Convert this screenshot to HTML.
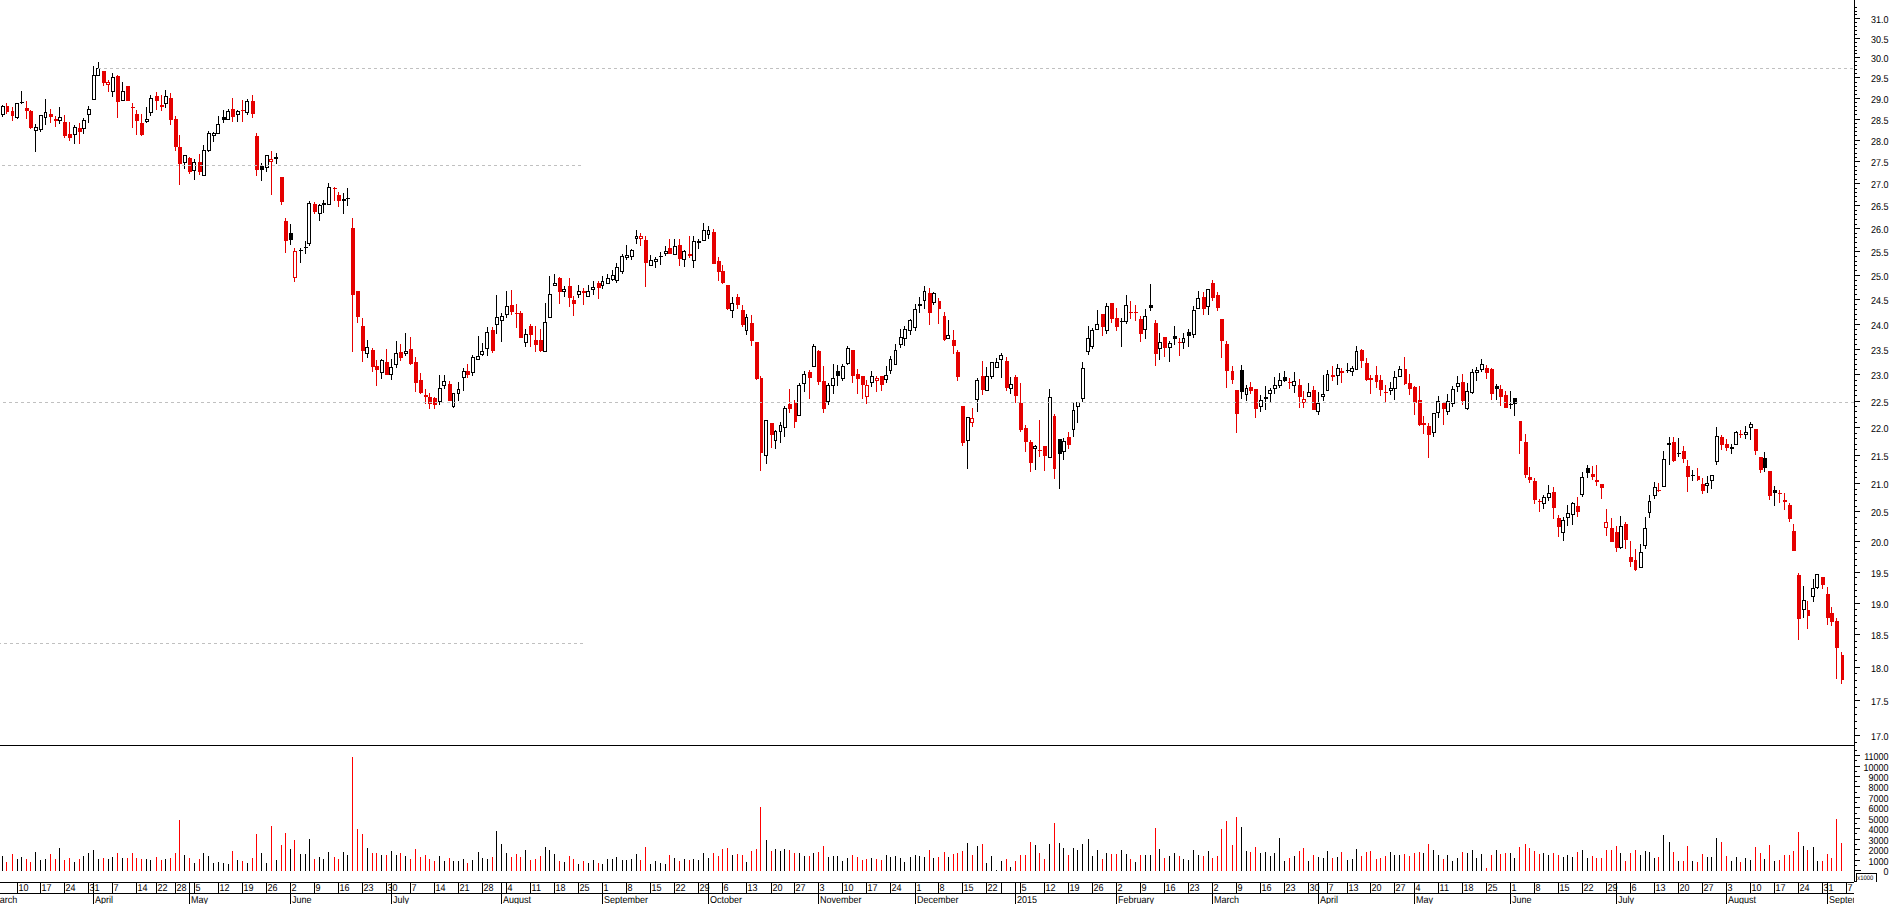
<!DOCTYPE html>
<html><head><meta charset="utf-8"><title>Chart</title>
<style>
html,body{margin:0;padding:0;background:#fff;overflow:hidden}
svg{display:block;font-family:"Liberation Sans",sans-serif;fill:#000;text-rendering:geometricPrecision}
</style></head><body>
<svg width="1890" height="904" viewBox="0 0 1890 904">
<rect width="1890" height="904" fill="#fff"/>
<g shape-rendering="crispEdges">
<path fill="#e50000" d="M6 103h1v3h-1zM6 112h1v2h-1zM6 106h3v6h-3zM12 107h1v4h-1zM12 116h1v5h-1zM11 111h3v5h-3zM26 101h1v7h-1zM26 111h1v8h-1zM25 108h4v3h-4zM30 110h1v1h-1zM30 128h1v1h-1zM29 111h4v17h-4zM50 109h1v5h-1zM50 117h1v6h-1zM49 114h4v3h-4zM55 116h1v3h-1zM55 121h1v6h-1zM54 119h4v2h-4zM64 115h1v7h-1zM64 136h1v2h-1zM63 122h4v14h-4zM69 122h1v12h-1zM69 138h1v3h-1zM68 134h4v4h-4zM79 123h1v5h-1zM79 132h1v12h-1zM78 128h4v4h-4zM103 83h1v3h-1zM102 71h4v12h-4zM108 80h1v2h-1zM108 85h1v7h-1zM106 82h4v3h-4zM117 75h1v1h-1zM117 102h1v16h-1zM116 76h4v26h-4zM126 86h4v15h-4zM132 103h1v4h-1zM132 108h1v20h-1zM131 107h4v1h-4zM136 110h1v4h-1zM136 121h1v14h-1zM135 114h4v7h-4zM141 114h1v9h-1zM141 135h1v1h-1zM140 123h4v12h-4zM156 92h1v4h-1zM156 101h1v9h-1zM155 96h4v5h-4zM161 95h1v10h-1zM161 107h1v4h-1zM160 105h4v2h-4zM170 93h1v5h-1zM170 120h1v5h-1zM169 98h4v22h-4zM175 116h1v3h-1zM175 147h1v4h-1zM174 119h4v28h-4zM179 135h1v12h-1zM179 164h1v21h-1zM178 147h4v17h-4zM189 157h1v1h-1zM189 172h1v2h-1zM188 158h4v14h-4zM199 154h1v8h-1zM199 172h1v3h-1zM198 162h4v10h-4zM232 98h1v11h-1zM232 117h1v5h-1zM231 109h4v8h-4zM242 100h1v10h-1zM242 111h1v11h-1zM241 110h4v1h-4zM252 95h1v6h-1zM252 114h1v4h-1zM251 101h4v13h-4zM256 133h1v3h-1zM256 170h1v6h-1zM255 136h4v34h-4zM271 151h1v8h-1zM271 162h1v33h-1zM269 159h4v3h-4zM281 202h1v3h-1zM280 177h4v25h-4zM285 218h1v3h-1zM285 241h1v12h-1zM284 221h4v20h-4zM294 248h1v3h-1zM294 278h1v4h-1zM293 251h4v27h-4zM314 202h1v2h-1zM314 212h1v2h-1zM313 204h4v8h-4zM334 187h1v1h-1zM334 189h1v12h-1zM333 188h4v1h-4zM338 192h1v3h-1zM338 201h1v6h-1zM337 195h4v6h-4zM352 218h1v10h-1zM352 295h1v57h-1zM351 228h4v67h-4zM357 317h1v6h-1zM356 291h4v26h-4zM362 318h1v8h-1zM362 351h1v11h-1zM361 326h4v25h-4zM372 348h1v2h-1zM372 367h1v5h-1zM371 350h4v17h-4zM376 360h1v6h-1zM376 370h1v16h-1zM375 366h4v4h-4zM386 349h1v13h-1zM385 362h4v13h-4zM400 344h1v8h-1zM400 358h1v3h-1zM399 352h4v6h-4zM410 337h1v12h-1zM410 364h1v1h-1zM409 349h4v15h-4zM415 357h1v5h-1zM415 383h1v9h-1zM414 362h4v21h-4zM420 373h1v7h-1zM420 393h1v1h-1zM419 380h4v13h-4zM425 389h1v6h-1zM425 397h1v7h-1zM424 395h4v2h-4zM429 393h1v4h-1zM429 404h1v5h-1zM428 397h4v7h-4zM434 397h1v1h-1zM434 405h1v4h-1zM433 398h4v7h-4zM449 381h1v3h-1zM448 384h4v17h-4zM467 364h1v7h-1zM467 375h1v3h-1zM466 371h4v4h-4zM492 327h1v3h-1zM492 351h1v2h-1zM491 330h4v21h-4zM511 290h1v15h-1zM511 312h1v3h-1zM510 305h4v7h-4zM516 304h1v9h-1zM516 314h1v14h-1zM515 313h4v1h-4zM520 311h1v2h-1zM519 313h4v25h-4zM530 324h1v2h-1zM530 335h1v12h-1zM529 326h4v9h-4zM535 326h1v14h-1zM535 345h1v7h-1zM534 340h4v5h-4zM540 329h1v11h-1zM540 351h1v1h-1zM539 340h4v11h-4zM559 277h1v1h-1zM559 292h1v12h-1zM558 278h4v14h-4zM569 278h1v8h-1zM569 298h1v9h-1zM568 286h4v12h-4zM573 296h1v4h-1zM573 304h1v12h-1zM572 300h4v4h-4zM583 288h1v3h-1zM583 293h1v12h-1zM582 291h4v2h-4zM598 281h1v2h-1zM598 288h1v11h-1zM597 283h4v5h-4zM640 233h1v3h-1zM640 239h1v7h-1zM639 236h4v3h-4zM645 236h1v4h-1zM645 263h1v24h-1zM644 240h4v23h-4zM669 239h1v9h-1zM668 248h4v6h-4zM679 239h1v6h-1zM679 259h1v7h-1zM678 245h4v14h-4zM689 236h1v18h-1zM689 256h1v2h-1zM688 254h4v2h-4zM713 229h1v3h-1zM712 232h4v32h-4zM718 257h1v4h-1zM718 272h1v9h-1zM717 261h4v11h-4zM722 265h1v6h-1zM722 283h1v1h-1zM721 271h4v12h-4zM727 309h1v1h-1zM726 285h4v24h-4zM737 294h1v3h-1zM737 305h1v4h-1zM736 297h4v8h-4zM742 305h1v5h-1zM742 325h1v2h-1zM741 310h4v15h-4zM751 315h1v8h-1zM751 341h1v5h-1zM750 323h4v18h-4zM756 379h1v1h-1zM755 342h4v37h-4zM760 376h1v2h-1zM760 453h1v18h-1zM760 378h3v75h-3zM771 435h1v13h-1zM770 423h4v12h-4zM789 389h1v15h-1zM789 409h1v4h-1zM788 404h4v5h-4zM794 400h1v3h-1zM794 422h1v6h-1zM794 403h3v19h-3zM809 370h1v2h-1zM809 378h1v21h-1zM808 372h4v6h-4zM818 350h1v1h-1zM818 382h1v3h-1zM817 351h4v31h-4zM823 366h1v15h-1zM823 409h1v4h-1zM822 381h4v28h-4zM852 376h1v7h-1zM851 350h4v26h-4zM857 369h1v5h-1zM857 379h1v15h-1zM856 374h4v5h-4zM862 385h1v14h-1zM861 376h4v9h-4zM866 380h1v5h-1zM866 397h1v7h-1zM865 385h4v12h-4zM876 376h1v2h-1zM876 381h1v11h-1zM875 378h4v3h-4zM881 385h1v6h-1zM880 376h4v9h-4zM929 288h1v5h-1zM929 313h1v12h-1zM928 293h4v20h-4zM938 298h1v3h-1zM938 309h1v15h-1zM938 301h3v8h-3zM944 312h1v4h-1zM944 340h1v1h-1zM943 316h3v24h-3zM953 330h1v10h-1zM953 346h1v8h-1zM952 340h4v6h-4zM957 350h1v2h-1zM957 377h1v4h-1zM956 352h4v25h-4zM962 443h1v3h-1zM961 406h4v37h-4zM972 408h1v10h-1zM972 423h1v4h-1zM970 418h4v5h-4zM982 361h1v15h-1zM982 390h1v5h-1zM981 376h4v14h-4zM1006 357h1v4h-1zM1006 388h1v3h-1zM1005 361h4v27h-4zM1015 375h1v2h-1zM1015 396h1v7h-1zM1014 377h4v19h-4zM1020 383h1v20h-1zM1020 430h1v2h-1zM1019 403h4v27h-4zM1025 425h1v3h-1zM1025 442h1v10h-1zM1024 428h4v14h-4zM1030 440h1v2h-1zM1030 463h1v9h-1zM1029 442h4v21h-4zM1039 420h1v30h-1zM1039 451h1v6h-1zM1038 450h4v1h-4zM1044 456h1v15h-1zM1043 446h4v10h-4zM1054 414h1v2h-1zM1054 469h1v10h-1zM1053 416h3v53h-3zM1068 432h1v5h-1zM1068 445h1v4h-1zM1067 437h4v8h-4zM1102 327h1v9h-1zM1101 314h4v13h-4zM1111 319h1v4h-1zM1110 303h4v16h-4zM1116 308h1v10h-1zM1116 327h1v4h-1zM1115 318h4v9h-4zM1130 301h1v11h-1zM1130 313h1v6h-1zM1129 312h4v1h-4zM1135 305h1v7h-1zM1135 313h1v8h-1zM1134 312h4v1h-4zM1140 316h1v3h-1zM1140 334h1v8h-1zM1139 319h4v15h-4zM1155 320h1v3h-1zM1155 354h1v12h-1zM1154 323h4v31h-4zM1164 348h1v9h-1zM1163 337h4v11h-4zM1179 338h1v4h-1zM1179 343h1v13h-1zM1178 342h4v1h-4zM1203 292h1v5h-1zM1203 309h1v6h-1zM1202 297h4v12h-4zM1212 280h1v3h-1zM1212 298h1v3h-1zM1211 283h4v15h-4zM1217 292h1v3h-1zM1217 308h1v3h-1zM1216 295h4v13h-4zM1221 341h1v17h-1zM1220 319h4v22h-4zM1226 341h1v3h-1zM1226 371h1v17h-1zM1225 344h4v27h-4zM1232 366h1v5h-1zM1232 380h1v4h-1zM1231 371h3v9h-3zM1236 414h1v19h-1zM1235 390h4v24h-4zM1250 382h1v5h-1zM1250 391h1v3h-1zM1249 387h4v4h-4zM1255 409h1v9h-1zM1254 389h4v20h-4zM1289 378h1v4h-1zM1289 383h1v6h-1zM1288 382h4v1h-4zM1299 379h1v6h-1zM1299 397h1v11h-1zM1298 385h4v12h-4zM1303 391h1v8h-1zM1303 403h1v5h-1zM1302 399h4v4h-4zM1313 386h1v4h-1zM1312 390h4v20h-4zM1332 366h1v9h-1zM1332 377h1v4h-1zM1331 375h4v2h-4zM1341 368h1v3h-1zM1341 373h1v10h-1zM1340 371h4v2h-4zM1361 349h1v1h-1zM1361 361h1v7h-1zM1360 350h4v11h-4zM1366 358h1v5h-1zM1366 380h1v1h-1zM1365 363h4v17h-4zM1370 375h1v3h-1zM1370 380h1v14h-1zM1369 378h4v2h-4zM1376 366h1v9h-1zM1376 382h1v6h-1zM1375 375h3v7h-3zM1380 375h1v5h-1zM1380 390h1v6h-1zM1379 380h4v10h-4zM1385 385h1v7h-1zM1385 393h1v9h-1zM1384 392h4v1h-4zM1404 357h1v12h-1zM1404 384h1v1h-1zM1404 369h3v15h-3zM1409 374h1v9h-1zM1409 389h1v6h-1zM1408 383h4v6h-4zM1414 386h1v1h-1zM1414 403h1v12h-1zM1413 387h4v16h-4zM1419 386h1v14h-1zM1419 425h1v1h-1zM1418 400h4v25h-4zM1423 416h1v7h-1zM1423 425h1v9h-1zM1422 423h4v2h-4zM1428 423h1v3h-1zM1428 435h1v23h-1zM1427 426h4v9h-4zM1443 409h1v16h-1zM1442 403h4v6h-4zM1462 374h1v8h-1zM1462 401h1v4h-1zM1461 382h4v19h-4zM1486 365h1v3h-1zM1486 373h1v6h-1zM1485 368h4v5h-4zM1491 368h1v1h-1zM1491 394h1v6h-1zM1490 369h4v25h-4zM1500 385h1v4h-1zM1500 397h1v9h-1zM1499 389h4v8h-4zM1505 391h1v4h-1zM1504 395h4v13h-4zM1519 441h1v13h-1zM1519 421h3v20h-3zM1525 434h1v8h-1zM1525 475h1v3h-1zM1524 442h4v33h-4zM1529 467h1v10h-1zM1529 480h1v3h-1zM1528 477h4v3h-4zM1534 478h1v3h-1zM1534 500h1v4h-1zM1533 481h4v19h-4zM1539 499h1v2h-1zM1539 502h1v10h-1zM1538 501h4v1h-4zM1553 487h1v5h-1zM1553 508h1v11h-1zM1552 492h4v16h-4zM1558 515h1v3h-1zM1558 527h1v10h-1zM1557 518h4v9h-4zM1577 497h1v9h-1zM1577 512h1v5h-1zM1576 506h4v6h-4zM1592 466h1v8h-1zM1592 477h1v3h-1zM1591 474h4v3h-4zM1596 465h1v15h-1zM1596 482h1v4h-1zM1595 480h4v2h-4zM1601 488h1v11h-1zM1600 484h4v4h-4zM1606 509h1v13h-1zM1606 528h1v8h-1zM1604 522h4v6h-4zM1611 518h1v10h-1zM1610 528h4v14h-4zM1616 526h1v6h-1zM1616 548h1v4h-1zM1615 532h4v16h-4zM1625 522h1v2h-1zM1625 540h1v9h-1zM1624 524h4v16h-4zM1630 541h1v16h-1zM1630 562h1v5h-1zM1629 557h4v5h-4zM1635 549h1v11h-1zM1635 570h1v1h-1zM1634 560h3v10h-3zM1658 483h1v7h-1zM1658 491h1v1h-1zM1657 490h4v1h-4zM1673 437h1v5h-1zM1673 461h1v1h-1zM1672 442h4v19h-4zM1683 446h1v5h-1zM1683 459h1v4h-1zM1682 451h4v8h-4zM1687 460h1v6h-1zM1687 477h1v15h-1zM1686 466h4v11h-4zM1697 468h1v8h-1zM1697 480h1v1h-1zM1697 476h3v4h-3zM1702 478h1v6h-1zM1702 491h1v3h-1zM1701 484h4v7h-4zM1721 435h1v2h-1zM1721 445h1v5h-1zM1720 437h4v8h-4zM1726 439h1v5h-1zM1726 448h1v3h-1zM1725 444h4v4h-4zM1740 430h1v4h-1zM1740 435h1v3h-1zM1739 434h4v1h-4zM1755 451h1v4h-1zM1754 429h4v22h-4zM1760 470h1v3h-1zM1759 457h4v13h-4zM1769 496h1v4h-1zM1768 471h4v25h-4zM1779 490h1v3h-1zM1779 494h1v9h-1zM1778 493h4v1h-4zM1784 493h1v7h-1zM1784 502h1v8h-1zM1783 500h4v2h-4zM1789 503h1v2h-1zM1789 519h1v3h-1zM1788 505h4v14h-4zM1793 524h1v7h-1zM1792 531h4v20h-4zM1798 573h1v2h-1zM1798 619h1v21h-1zM1797 575h4v44h-4zM1807 601h1v9h-1zM1807 616h1v13h-1zM1807 610h3v6h-3zM1822 585h1v4h-1zM1821 577h4v8h-4zM1827 587h1v7h-1zM1827 618h1v7h-1zM1826 594h4v24h-4zM1831 607h1v6h-1zM1831 622h1v4h-1zM1830 613h4v9h-4zM1836 618h1v3h-1zM1836 648h1v31h-1zM1835 621h4v27h-4zM1841 652h1v3h-1zM1841 680h1v4h-1zM1841 655h3v25h-3z"/>
<path fill="#000" d="M2 105h1v1h-1zM2 115h1v2h-1zM1 106h4v9h-4zM17 118h1v1h-1zM15 103h4v15h-4zM21 91h1v11h-1zM21 103h1v1h-1zM20 102h4v1h-4zM35 124h1v3h-1zM35 131h1v21h-1zM34 127h4v4h-4zM40 130h1v2h-1zM39 115h4v15h-4zM45 99h1v13h-1zM45 118h1v7h-1zM44 112h3v6h-3zM59 107h1v10h-1zM59 121h1v3h-1zM58 117h4v4h-4zM74 125h1v2h-1zM74 135h1v9h-1zM73 127h4v8h-4zM83 118h1v2h-1zM83 129h1v5h-1zM82 120h4v9h-4zM88 106h1v3h-1zM88 115h1v8h-1zM87 109h4v6h-4zM93 66h1v9h-1zM92 75h4v25h-4zM98 62h1v6h-1zM96 68h4v8h-4zM112 73h1v4h-1zM112 92h1v5h-1zM111 77h4v15h-4zM122 82h1v9h-1zM121 91h4v10h-4zM146 107h1v12h-1zM146 122h1v1h-1zM145 119h4v3h-4zM150 95h1v3h-1zM150 113h1v3h-1zM149 98h4v15h-4zM165 90h1v6h-1zM165 104h1v4h-1zM164 96h4v8h-4zM184 163h1v6h-1zM183 155h4v8h-4zM194 159h1v3h-1zM194 171h1v9h-1zM192 162h4v9h-4zM203 145h1v5h-1zM202 150h4v26h-4zM208 131h1v2h-1zM208 151h1v1h-1zM207 133h4v18h-4zM213 132h1v1h-1zM213 136h1v6h-1zM212 133h4v3h-4zM218 116h1v8h-1zM216 124h4v10h-4zM223 110h1v7h-1zM223 120h1v3h-1zM222 117h4v3h-4zM228 109h1v2h-1zM226 111h4v9h-4zM237 110h1v1h-1zM237 115h1v7h-1zM236 111h4v4h-4zM247 99h1v2h-1zM247 113h1v2h-1zM245 101h4v12h-4zM261 163h1v3h-1zM261 170h1v11h-1zM260 166h4v4h-4zM266 168h1v4h-1zM265 155h4v13h-4zM276 153h1v4h-1zM276 159h1v5h-1zM274 157h4v2h-4zM290 224h1v9h-1zM290 240h1v5h-1zM289 233h4v7h-4zM300 248h1v2h-1zM300 251h1v12h-1zM299 250h4v1h-4zM305 241h1v6h-1zM305 248h1v6h-1zM304 247h4v1h-4zM309 201h1v2h-1zM309 244h1v2h-1zM307 203h4v41h-4zM319 204h1v1h-1zM319 214h1v7h-1zM318 205h4v9h-4zM323 200h1v3h-1zM323 205h1v8h-1zM322 203h4v2h-4zM328 183h1v4h-1zM327 187h4v18h-4zM343 193h1v6h-1zM343 201h1v13h-1zM342 199h4v2h-4zM347 188h1v10h-1zM347 199h1v7h-1zM346 198h4v1h-4zM367 340h1v7h-1zM367 354h1v4h-1zM365 347h4v7h-4zM381 359h1v1h-1zM381 373h1v6h-1zM380 360h4v13h-4zM391 359h1v8h-1zM391 375h1v5h-1zM389 367h4v8h-4zM396 341h1v12h-1zM396 365h1v3h-1zM394 353h4v12h-4zM405 333h1v18h-1zM405 354h1v2h-1zM404 351h4v3h-4zM439 375h1v13h-1zM439 402h1v3h-1zM438 388h4v14h-4zM444 375h1v6h-1zM444 386h1v3h-1zM442 381h4v5h-4zM453 407h1v1h-1zM452 393h3v14h-3zM458 382h1v7h-1zM458 394h1v7h-1zM457 389h3v5h-3zM463 368h1v3h-1zM463 378h1v13h-1zM462 371h4v7h-4zM472 355h1v2h-1zM472 373h1v3h-1zM471 357h4v16h-4zM478 336h1v20h-1zM476 356h4v4h-4zM482 343h1v8h-1zM482 355h1v1h-1zM480 351h4v4h-4zM487 327h1v5h-1zM487 349h1v7h-1zM485 332h4v17h-4zM496 295h1v22h-1zM496 325h1v9h-1zM495 317h4v8h-4zM501 313h1v3h-1zM501 321h1v21h-1zM500 316h4v5h-4zM506 291h1v15h-1zM506 315h1v3h-1zM505 306h4v9h-4zM525 329h1v5h-1zM525 343h1v4h-1zM524 334h4v9h-4zM545 303h1v19h-1zM543 322h4v30h-4zM549 276h1v18h-1zM548 294h4v24h-4zM554 274h1v9h-1zM553 283h4v3h-4zM564 286h1v3h-1zM564 292h1v5h-1zM562 289h4v3h-4zM578 285h1v6h-1zM578 295h1v3h-1zM577 291h4v4h-4zM588 285h1v6h-1zM586 291h4v6h-4zM593 281h1v6h-1zM593 290h1v5h-1zM591 287h4v3h-4zM602 276h1v5h-1zM602 286h1v3h-1zM601 281h3v5h-3zM607 274h1v4h-1zM606 278h4v6h-4zM612 270h1v5h-1zM612 280h1v1h-1zM611 275h4v5h-4zM616 263h1v4h-1zM616 281h1v2h-1zM615 267h4v14h-4zM622 254h1v2h-1zM622 272h1v2h-1zM620 256h4v16h-4zM626 245h1v10h-1zM626 258h1v2h-1zM625 255h4v3h-4zM631 249h1v1h-1zM631 257h1v3h-1zM630 250h4v7h-4zM636 230h1v6h-1zM636 239h1v5h-1zM635 236h3v3h-3zM650 255h1v5h-1zM649 260h4v6h-4zM655 257h1v2h-1zM655 262h1v6h-1zM654 259h4v3h-4zM660 252h1v4h-1zM660 257h1v8h-1zM659 256h4v1h-4zM665 246h1v5h-1zM665 254h1v2h-1zM664 251h4v3h-4zM674 239h1v7h-1zM673 246h4v9h-4zM684 250h1v1h-1zM684 260h1v7h-1zM682 251h4v9h-4zM693 236h1v5h-1zM693 261h1v7h-1zM692 241h4v20h-4zM698 239h1v2h-1zM698 243h1v6h-1zM697 241h4v2h-4zM703 223h1v7h-1zM702 230h4v11h-4zM708 226h1v4h-1zM708 235h1v4h-1zM707 230h3v5h-3zM732 297h1v6h-1zM732 311h1v7h-1zM730 303h4v8h-4zM746 314h1v3h-1zM746 331h1v4h-1zM745 317h3v14h-3zM766 456h1v8h-1zM764 420h4v36h-4zM775 430h1v1h-1zM775 441h1v8h-1zM774 431h3v10h-3zM780 422h1v3h-1zM780 432h1v11h-1zM779 425h3v7h-3zM784 406h1v2h-1zM784 428h1v9h-1zM783 408h4v20h-4zM799 383h1v2h-1zM797 385h4v31h-4zM804 371h1v3h-1zM804 384h1v8h-1zM802 374h4v10h-4zM813 344h1v2h-1zM812 346h4v21h-4zM828 383h1v2h-1zM828 402h1v3h-1zM826 385h4v17h-4zM833 364h1v14h-1zM833 386h1v8h-1zM831 378h4v8h-4zM837 365h1v6h-1zM837 376h1v10h-1zM836 371h4v5h-4zM842 364h1v2h-1zM842 379h1v2h-1zM841 366h4v13h-4zM847 346h1v2h-1zM847 364h1v1h-1zM846 348h4v16h-4zM871 371h1v5h-1zM871 383h1v4h-1zM870 376h4v7h-4zM886 366h1v9h-1zM886 380h1v3h-1zM884 375h4v5h-4zM890 356h1v3h-1zM890 371h1v3h-1zM889 359h3v12h-3zM895 344h1v6h-1zM894 350h3v15h-3zM900 329h1v8h-1zM900 345h1v3h-1zM899 337h4v8h-4zM904 326h1v3h-1zM904 339h1v7h-1zM903 329h4v10h-4zM910 319h1v1h-1zM910 331h1v4h-1zM908 320h4v11h-4zM915 304h1v5h-1zM915 328h1v3h-1zM913 309h4v19h-4zM919 297h1v7h-1zM919 306h1v7h-1zM918 304h4v2h-4zM924 286h1v5h-1zM924 301h1v8h-1zM923 291h3v10h-3zM933 292h1v1h-1zM933 303h1v2h-1zM932 293h4v10h-4zM948 320h1v15h-1zM946 335h4v4h-4zM967 441h1v28h-1zM966 417h4v24h-4zM977 378h1v2h-1zM977 400h1v12h-1zM975 380h4v20h-4zM986 367h1v9h-1zM985 376h4v15h-4zM991 377h1v2h-1zM990 362h4v15h-4zM996 358h1v4h-1zM995 362h4v6h-4zM1001 353h1v2h-1zM1001 360h1v18h-1zM999 355h4v5h-4zM1010 377h1v7h-1zM1010 389h1v5h-1zM1009 384h4v5h-4zM1035 445h1v1h-1zM1035 449h1v21h-1zM1033 446h4v3h-4zM1049 389h1v8h-1zM1048 397h4v61h-4zM1059 454h1v35h-1zM1058 439h4v15h-4zM1063 438h1v3h-1zM1063 452h1v8h-1zM1062 441h4v11h-4zM1073 403h1v7h-1zM1073 430h1v7h-1zM1072 410h3v20h-3zM1077 407h1v16h-1zM1076 402h4v5h-4zM1082 362h1v6h-1zM1082 399h1v3h-1zM1081 368h4v31h-4zM1088 326h1v12h-1zM1088 352h1v3h-1zM1086 338h4v14h-4zM1092 328h1v2h-1zM1092 347h1v2h-1zM1090 330h4v17h-4zM1097 310h1v14h-1zM1095 324h4v6h-4zM1106 303h1v3h-1zM1106 331h1v3h-1zM1105 306h4v25h-4zM1121 318h1v3h-1zM1121 322h1v25h-1zM1120 321h4v1h-4zM1126 295h1v10h-1zM1126 322h1v2h-1zM1124 305h4v17h-4zM1145 309h1v7h-1zM1145 330h1v9h-1zM1143 316h4v14h-4zM1150 284h1v21h-1zM1150 308h1v3h-1zM1149 305h4v3h-4zM1159 333h1v9h-1zM1159 349h1v11h-1zM1158 342h4v7h-4zM1169 341h1v2h-1zM1169 348h1v14h-1zM1168 343h4v5h-4zM1174 326h1v10h-1zM1174 339h1v6h-1zM1173 336h4v3h-4zM1183 333h1v5h-1zM1183 343h1v6h-1zM1182 338h3v5h-3zM1188 329h1v3h-1zM1188 336h1v11h-1zM1187 332h4v4h-4zM1193 306h1v4h-1zM1193 335h1v3h-1zM1192 310h4v25h-4zM1198 291h1v7h-1zM1196 298h4v11h-4zM1208 307h1v8h-1zM1206 289h4v18h-4zM1241 365h1v5h-1zM1241 392h1v7h-1zM1240 370h4v22h-4zM1246 385h1v3h-1zM1246 395h1v6h-1zM1245 388h3v7h-3zM1260 395h1v5h-1zM1260 407h1v5h-1zM1259 400h4v7h-4zM1265 386h1v11h-1zM1265 399h1v11h-1zM1264 397h4v2h-4zM1270 388h1v2h-1zM1270 394h1v9h-1zM1268 390h4v4h-4zM1274 377h1v8h-1zM1274 389h1v5h-1zM1273 385h4v4h-4zM1279 373h1v7h-1zM1279 386h1v2h-1zM1278 380h4v6h-4zM1284 371h1v6h-1zM1284 381h1v1h-1zM1283 377h4v4h-4zM1294 372h1v9h-1zM1294 386h1v7h-1zM1292 381h4v5h-4zM1308 383h1v9h-1zM1307 392h4v5h-4zM1318 392h1v11h-1zM1318 412h1v3h-1zM1316 403h4v9h-4zM1323 375h1v19h-1zM1323 397h1v4h-1zM1321 394h4v3h-4zM1327 370h1v4h-1zM1326 374h3v17h-3zM1337 364h1v4h-1zM1337 376h1v9h-1zM1336 368h4v8h-4zM1347 363h1v7h-1zM1347 371h1v2h-1zM1346 370h4v1h-4zM1352 366h1v2h-1zM1352 372h1v4h-1zM1350 368h4v4h-4zM1356 346h1v5h-1zM1355 351h3v19h-3zM1390 382h1v6h-1zM1390 391h1v4h-1zM1389 388h4v3h-4zM1394 371h1v6h-1zM1394 389h1v11h-1zM1393 377h4v12h-4zM1399 366h1v3h-1zM1398 369h4v8h-4zM1433 433h1v4h-1zM1432 413h4v20h-4zM1438 396h1v5h-1zM1438 413h1v5h-1zM1436 401h4v12h-4zM1447 394h1v7h-1zM1447 412h1v3h-1zM1446 401h4v11h-4zM1452 386h1v3h-1zM1452 404h1v3h-1zM1451 389h4v15h-4zM1457 376h1v7h-1zM1457 387h1v5h-1zM1456 383h4v4h-4zM1467 383h1v8h-1zM1467 409h1v1h-1zM1465 391h4v18h-4zM1472 369h1v3h-1zM1472 393h1v1h-1zM1470 372h4v21h-4zM1476 367h1v3h-1zM1476 373h1v8h-1zM1475 370h4v3h-4zM1481 359h1v5h-1zM1481 370h1v2h-1zM1480 364h4v6h-4zM1496 384h1v2h-1zM1496 389h1v11h-1zM1495 386h4v3h-4zM1510 391h1v13h-1zM1510 405h1v4h-1zM1509 404h4v1h-4zM1514 404h1v12h-1zM1513 398h4v6h-4zM1543 495h1v2h-1zM1543 504h1v5h-1zM1542 497h4v7h-4zM1548 485h1v8h-1zM1548 498h1v3h-1zM1547 493h4v5h-4zM1563 517h1v3h-1zM1563 533h1v8h-1zM1561 520h4v13h-4zM1567 505h1v8h-1zM1567 518h1v8h-1zM1566 513h4v5h-4zM1572 502h1v1h-1zM1572 515h1v10h-1zM1571 503h4v12h-4zM1582 472h1v5h-1zM1582 495h1v2h-1zM1580 477h4v18h-4zM1587 465h1v3h-1zM1587 473h1v5h-1zM1586 468h4v5h-4zM1620 516h1v10h-1zM1620 548h1v1h-1zM1619 526h4v22h-4zM1640 544h1v8h-1zM1639 552h4v16h-4zM1645 517h1v11h-1zM1645 546h1v3h-1zM1643 528h4v18h-4zM1649 495h1v6h-1zM1649 513h1v5h-1zM1648 501h3v12h-3zM1654 482h1v5h-1zM1654 496h1v3h-1zM1653 487h4v9h-4zM1663 451h1v8h-1zM1662 459h4v28h-4zM1669 437h1v6h-1zM1669 445h1v20h-1zM1667 443h4v2h-4zM1678 438h1v15h-1zM1678 454h1v3h-1zM1677 453h4v1h-4zM1692 470h1v5h-1zM1692 476h1v5h-1zM1691 475h4v1h-4zM1707 476h1v7h-1zM1707 486h1v7h-1zM1705 483h4v3h-4zM1711 481h1v8h-1zM1710 475h4v6h-4zM1716 427h1v9h-1zM1716 462h1v3h-1zM1715 436h4v26h-4zM1731 444h1v3h-1zM1731 449h1v5h-1zM1730 447h4v2h-4zM1736 431h1v1h-1zM1734 432h4v13h-4zM1745 426h1v6h-1zM1745 435h1v4h-1zM1744 432h4v3h-4zM1750 422h1v2h-1zM1750 428h1v12h-1zM1749 424h4v4h-4zM1764 452h1v6h-1zM1764 468h1v4h-1zM1763 458h4v10h-4zM1774 486h1v4h-1zM1774 493h1v13h-1zM1773 490h4v3h-4zM1803 586h1v14h-1zM1803 610h1v8h-1zM1802 600h4v10h-4zM1813 579h1v9h-1zM1813 597h1v5h-1zM1811 588h4v9h-4zM1817 588h1v1h-1zM1815 574h4v14h-4z"/>
<path fill="#fff" d="M2 107h2v7h-2zM16 104h2v13h-2zM35 128h2v2h-2zM40 116h2v13h-2zM45 113h1v4h-1zM59 118h2v2h-2zM74 128h2v6h-2zM83 121h2v7h-2zM88 110h2v4h-2zM93 76h2v23h-2zM97 69h2v6h-2zM107 83h2v1h-2zM112 78h2v13h-2zM122 92h2v8h-2zM146 120h2v1h-2zM150 99h2v13h-2zM165 97h2v6h-2zM184 156h2v6h-2zM193 163h2v7h-2zM203 151h2v24h-2zM208 134h2v16h-2zM213 134h2v1h-2zM217 125h2v8h-2zM227 112h2v7h-2zM237 112h2v2h-2zM246 102h2v10h-2zM266 156h2v11h-2zM270 160h2v1h-2zM294 252h2v25h-2zM308 204h2v39h-2zM319 206h2v7h-2zM328 188h2v16h-2zM366 348h2v5h-2zM381 361h2v11h-2zM390 368h2v6h-2zM395 354h2v10h-2zM405 352h2v1h-2zM439 389h2v12h-2zM443 382h2v3h-2zM453 394h1v12h-1zM458 390h1v3h-1zM463 372h2v5h-2zM472 358h2v14h-2zM477 357h2v2h-2zM481 352h2v2h-2zM486 333h2v15h-2zM496 318h2v6h-2zM501 317h2v3h-2zM506 307h2v7h-2zM525 335h2v7h-2zM544 323h2v28h-2zM549 295h2v22h-2zM554 284h2v1h-2zM563 290h2v1h-2zM578 292h2v2h-2zM587 292h2v4h-2zM592 288h2v1h-2zM602 282h1v3h-1zM607 279h2v4h-2zM612 276h2v3h-2zM616 268h2v12h-2zM621 257h2v14h-2zM626 256h2v1h-2zM631 251h2v5h-2zM636 237h1v1h-1zM640 237h2v1h-2zM650 261h2v4h-2zM655 260h2v1h-2zM665 252h2v1h-2zM674 247h2v7h-2zM683 252h2v7h-2zM693 242h2v18h-2zM703 231h2v9h-2zM708 231h1v3h-1zM731 304h2v6h-2zM746 318h1v12h-1zM765 421h2v34h-2zM775 432h1v8h-1zM780 426h1v5h-1zM784 409h2v18h-2zM798 386h2v29h-2zM803 375h2v8h-2zM813 347h2v19h-2zM827 386h2v15h-2zM832 379h2v6h-2zM842 367h2v11h-2zM847 349h2v14h-2zM866 386h2v10h-2zM871 377h2v5h-2zM876 379h2v1h-2zM885 376h2v3h-2zM890 360h1v10h-1zM895 351h1v13h-1zM900 338h2v6h-2zM904 330h2v8h-2zM909 321h2v9h-2zM914 310h2v17h-2zM924 292h1v8h-1zM933 294h2v8h-2zM947 336h2v2h-2zM967 418h2v22h-2zM971 419h2v3h-2zM976 381h2v18h-2zM986 377h2v13h-2zM991 363h2v13h-2zM996 363h2v4h-2zM1000 356h2v3h-2zM1010 385h2v3h-2zM1034 447h2v1h-2zM1049 398h2v59h-2zM1063 442h2v9h-2zM1073 411h1v18h-1zM1077 403h2v3h-2zM1082 369h2v29h-2zM1087 339h2v12h-2zM1091 331h2v15h-2zM1096 325h2v4h-2zM1106 307h2v23h-2zM1125 306h2v15h-2zM1144 317h2v12h-2zM1159 343h2v5h-2zM1169 344h2v3h-2zM1183 339h1v3h-1zM1193 311h2v23h-2zM1197 299h2v9h-2zM1207 290h2v16h-2zM1246 389h1v5h-1zM1260 401h2v5h-2zM1269 391h2v2h-2zM1274 386h2v2h-2zM1279 381h2v4h-2zM1293 382h2v3h-2zM1303 400h2v2h-2zM1308 393h2v3h-2zM1317 404h2v7h-2zM1322 395h2v1h-2zM1327 375h1v15h-1zM1337 369h2v6h-2zM1351 369h2v2h-2zM1356 352h1v17h-1zM1390 389h2v1h-2zM1394 378h2v10h-2zM1399 370h2v6h-2zM1433 414h2v18h-2zM1437 402h2v10h-2zM1447 402h2v9h-2zM1452 390h2v13h-2zM1457 384h2v2h-2zM1466 392h2v16h-2zM1471 373h2v19h-2zM1476 371h2v1h-2zM1481 365h2v4h-2zM1543 498h2v5h-2zM1548 494h2v3h-2zM1562 521h2v11h-2zM1567 514h2v3h-2zM1572 504h2v10h-2zM1581 478h2v16h-2zM1605 523h2v4h-2zM1620 527h2v20h-2zM1640 553h2v14h-2zM1644 529h2v16h-2zM1649 502h1v10h-1zM1654 488h2v7h-2zM1663 460h2v26h-2zM1706 484h2v1h-2zM1711 476h2v4h-2zM1716 437h2v24h-2zM1735 433h2v11h-2zM1745 433h2v1h-2zM1750 425h2v2h-2zM1803 601h2v8h-2zM1812 589h2v7h-2zM1816 575h2v12h-2z"/>
<path fill="#c0c0c0" d="M98 68h3v1h-3zM104 68h3v1h-3zM110 68h3v1h-3zM116 68h3v1h-3zM122 68h3v1h-3zM128 68h3v1h-3zM134 68h3v1h-3zM140 68h3v1h-3zM146 68h3v1h-3zM152 68h3v1h-3zM158 68h3v1h-3zM164 68h3v1h-3zM170 68h3v1h-3zM176 68h3v1h-3zM182 68h3v1h-3zM188 68h3v1h-3zM194 68h3v1h-3zM200 68h3v1h-3zM206 68h3v1h-3zM212 68h3v1h-3zM218 68h3v1h-3zM224 68h3v1h-3zM230 68h3v1h-3zM236 68h3v1h-3zM242 68h3v1h-3zM248 68h3v1h-3zM254 68h3v1h-3zM260 68h3v1h-3zM266 68h3v1h-3zM272 68h3v1h-3zM278 68h3v1h-3zM284 68h3v1h-3zM290 68h3v1h-3zM296 68h3v1h-3zM302 68h3v1h-3zM308 68h3v1h-3zM314 68h3v1h-3zM320 68h3v1h-3zM326 68h3v1h-3zM332 68h3v1h-3zM338 68h3v1h-3zM344 68h3v1h-3zM350 68h3v1h-3zM356 68h3v1h-3zM362 68h3v1h-3zM368 68h3v1h-3zM374 68h3v1h-3zM380 68h3v1h-3zM386 68h3v1h-3zM392 68h3v1h-3zM398 68h3v1h-3zM404 68h3v1h-3zM410 68h3v1h-3zM416 68h3v1h-3zM422 68h3v1h-3zM428 68h3v1h-3zM434 68h3v1h-3zM440 68h3v1h-3zM446 68h3v1h-3zM452 68h3v1h-3zM458 68h3v1h-3zM464 68h3v1h-3zM470 68h3v1h-3zM476 68h3v1h-3zM482 68h3v1h-3zM488 68h3v1h-3zM494 68h3v1h-3zM500 68h3v1h-3zM506 68h3v1h-3zM512 68h3v1h-3zM518 68h3v1h-3zM524 68h3v1h-3zM530 68h3v1h-3zM536 68h3v1h-3zM542 68h3v1h-3zM548 68h3v1h-3zM554 68h3v1h-3zM560 68h3v1h-3zM566 68h3v1h-3zM572 68h3v1h-3zM578 68h3v1h-3zM584 68h3v1h-3zM590 68h3v1h-3zM596 68h3v1h-3zM602 68h3v1h-3zM608 68h3v1h-3zM614 68h3v1h-3zM620 68h3v1h-3zM626 68h3v1h-3zM632 68h3v1h-3zM638 68h3v1h-3zM644 68h3v1h-3zM650 68h3v1h-3zM656 68h3v1h-3zM662 68h3v1h-3zM668 68h3v1h-3zM674 68h3v1h-3zM680 68h3v1h-3zM686 68h3v1h-3zM692 68h3v1h-3zM698 68h3v1h-3zM704 68h3v1h-3zM710 68h3v1h-3zM716 68h3v1h-3zM722 68h3v1h-3zM728 68h3v1h-3zM734 68h3v1h-3zM740 68h3v1h-3zM746 68h3v1h-3zM752 68h3v1h-3zM758 68h3v1h-3zM764 68h3v1h-3zM770 68h3v1h-3zM776 68h3v1h-3zM782 68h3v1h-3zM788 68h3v1h-3zM794 68h3v1h-3zM800 68h3v1h-3zM806 68h3v1h-3zM812 68h3v1h-3zM818 68h3v1h-3zM824 68h3v1h-3zM830 68h3v1h-3zM836 68h3v1h-3zM842 68h3v1h-3zM848 68h3v1h-3zM854 68h3v1h-3zM860 68h3v1h-3zM866 68h3v1h-3zM872 68h3v1h-3zM878 68h3v1h-3zM884 68h3v1h-3zM890 68h3v1h-3zM896 68h3v1h-3zM902 68h3v1h-3zM908 68h3v1h-3zM914 68h3v1h-3zM920 68h3v1h-3zM926 68h3v1h-3zM932 68h3v1h-3zM938 68h3v1h-3zM944 68h3v1h-3zM950 68h3v1h-3zM956 68h3v1h-3zM962 68h3v1h-3zM968 68h3v1h-3zM974 68h3v1h-3zM980 68h3v1h-3zM986 68h3v1h-3zM992 68h3v1h-3zM998 68h3v1h-3zM1004 68h3v1h-3zM1010 68h3v1h-3zM1016 68h3v1h-3zM1022 68h3v1h-3zM1028 68h3v1h-3zM1034 68h3v1h-3zM1040 68h3v1h-3zM1046 68h3v1h-3zM1052 68h3v1h-3zM1058 68h3v1h-3zM1064 68h3v1h-3zM1070 68h3v1h-3zM1076 68h3v1h-3zM1082 68h3v1h-3zM1088 68h3v1h-3zM1094 68h3v1h-3zM1100 68h3v1h-3zM1106 68h3v1h-3zM1112 68h3v1h-3zM1118 68h3v1h-3zM1124 68h3v1h-3zM1130 68h3v1h-3zM1136 68h3v1h-3zM1142 68h3v1h-3zM1148 68h3v1h-3zM1154 68h3v1h-3zM1160 68h3v1h-3zM1166 68h3v1h-3zM1172 68h3v1h-3zM1178 68h3v1h-3zM1184 68h3v1h-3zM1190 68h3v1h-3zM1196 68h3v1h-3zM1202 68h3v1h-3zM1208 68h3v1h-3zM1214 68h3v1h-3zM1220 68h3v1h-3zM1226 68h3v1h-3zM1232 68h3v1h-3zM1238 68h3v1h-3zM1244 68h3v1h-3zM1250 68h3v1h-3zM1256 68h3v1h-3zM1262 68h3v1h-3zM1268 68h3v1h-3zM1274 68h3v1h-3zM1280 68h3v1h-3zM1286 68h3v1h-3zM1292 68h3v1h-3zM1298 68h3v1h-3zM1304 68h3v1h-3zM1310 68h3v1h-3zM1316 68h3v1h-3zM1322 68h3v1h-3zM1328 68h3v1h-3zM1334 68h3v1h-3zM1340 68h3v1h-3zM1346 68h3v1h-3zM1352 68h3v1h-3zM1358 68h3v1h-3zM1364 68h3v1h-3zM1370 68h3v1h-3zM1376 68h3v1h-3zM1382 68h3v1h-3zM1388 68h3v1h-3zM1394 68h3v1h-3zM1400 68h3v1h-3zM1406 68h3v1h-3zM1412 68h3v1h-3zM1418 68h3v1h-3zM1424 68h3v1h-3zM1430 68h3v1h-3zM1436 68h3v1h-3zM1442 68h3v1h-3zM1448 68h3v1h-3zM1454 68h3v1h-3zM1460 68h3v1h-3zM1466 68h3v1h-3zM1472 68h3v1h-3zM1478 68h3v1h-3zM1484 68h3v1h-3zM1490 68h3v1h-3zM1496 68h3v1h-3zM1502 68h3v1h-3zM1508 68h3v1h-3zM1514 68h3v1h-3zM1520 68h3v1h-3zM1526 68h3v1h-3zM1532 68h3v1h-3zM1538 68h3v1h-3zM1544 68h3v1h-3zM1550 68h3v1h-3zM1556 68h3v1h-3zM1562 68h3v1h-3zM1568 68h3v1h-3zM1574 68h3v1h-3zM1580 68h3v1h-3zM1586 68h3v1h-3zM1592 68h3v1h-3zM1598 68h3v1h-3zM1604 68h3v1h-3zM1610 68h3v1h-3zM1616 68h3v1h-3zM1622 68h3v1h-3zM1628 68h3v1h-3zM1634 68h3v1h-3zM1640 68h3v1h-3zM1646 68h3v1h-3zM1652 68h3v1h-3zM1658 68h3v1h-3zM1664 68h3v1h-3zM1670 68h3v1h-3zM1676 68h3v1h-3zM1682 68h3v1h-3zM1688 68h3v1h-3zM1694 68h3v1h-3zM1700 68h3v1h-3zM1706 68h3v1h-3zM1712 68h3v1h-3zM1718 68h3v1h-3zM1724 68h3v1h-3zM1730 68h3v1h-3zM1736 68h3v1h-3zM1742 68h3v1h-3zM1748 68h3v1h-3zM1754 68h3v1h-3zM1760 68h3v1h-3zM1766 68h3v1h-3zM1772 68h3v1h-3zM1778 68h3v1h-3zM1784 68h3v1h-3zM1790 68h3v1h-3zM1796 68h3v1h-3zM1802 68h3v1h-3zM1808 68h3v1h-3zM1814 68h3v1h-3zM1820 68h3v1h-3zM1826 68h3v1h-3zM1832 68h3v1h-3zM1838 68h3v1h-3zM1844 68h3v1h-3zM1850 68h3v1h-3zM2 165h3v1h-3zM8 165h3v1h-3zM14 165h3v1h-3zM20 165h3v1h-3zM26 165h3v1h-3zM32 165h3v1h-3zM38 165h3v1h-3zM44 165h3v1h-3zM50 165h3v1h-3zM56 165h3v1h-3zM62 165h3v1h-3zM68 165h3v1h-3zM74 165h3v1h-3zM80 165h3v1h-3zM86 165h3v1h-3zM92 165h3v1h-3zM98 165h3v1h-3zM104 165h3v1h-3zM110 165h3v1h-3zM116 165h3v1h-3zM122 165h3v1h-3zM128 165h3v1h-3zM134 165h3v1h-3zM140 165h3v1h-3zM146 165h3v1h-3zM152 165h3v1h-3zM158 165h3v1h-3zM164 165h3v1h-3zM170 165h3v1h-3zM176 165h3v1h-3zM182 165h3v1h-3zM188 165h3v1h-3zM194 165h3v1h-3zM200 165h3v1h-3zM206 165h3v1h-3zM212 165h3v1h-3zM218 165h3v1h-3zM224 165h3v1h-3zM230 165h3v1h-3zM236 165h3v1h-3zM242 165h3v1h-3zM248 165h3v1h-3zM254 165h3v1h-3zM260 165h3v1h-3zM266 165h3v1h-3zM272 165h3v1h-3zM278 165h3v1h-3zM284 165h3v1h-3zM290 165h3v1h-3zM296 165h3v1h-3zM302 165h3v1h-3zM308 165h3v1h-3zM314 165h3v1h-3zM320 165h3v1h-3zM326 165h3v1h-3zM332 165h3v1h-3zM338 165h3v1h-3zM344 165h3v1h-3zM350 165h3v1h-3zM356 165h3v1h-3zM362 165h3v1h-3zM368 165h3v1h-3zM374 165h3v1h-3zM380 165h3v1h-3zM386 165h3v1h-3zM392 165h3v1h-3zM398 165h3v1h-3zM404 165h3v1h-3zM410 165h3v1h-3zM416 165h3v1h-3zM422 165h3v1h-3zM428 165h3v1h-3zM434 165h3v1h-3zM440 165h3v1h-3zM446 165h3v1h-3zM452 165h3v1h-3zM458 165h3v1h-3zM464 165h3v1h-3zM470 165h3v1h-3zM476 165h3v1h-3zM482 165h3v1h-3zM488 165h3v1h-3zM494 165h3v1h-3zM500 165h3v1h-3zM506 165h3v1h-3zM512 165h3v1h-3zM518 165h3v1h-3zM524 165h3v1h-3zM530 165h3v1h-3zM536 165h3v1h-3zM542 165h3v1h-3zM548 165h3v1h-3zM554 165h3v1h-3zM560 165h3v1h-3zM566 165h3v1h-3zM572 165h3v1h-3zM578 165h3v1h-3zM3 402h3v1h-3zM9 402h3v1h-3zM15 402h3v1h-3zM21 402h3v1h-3zM27 402h3v1h-3zM33 402h3v1h-3zM39 402h3v1h-3zM45 402h3v1h-3zM51 402h3v1h-3zM57 402h3v1h-3zM63 402h3v1h-3zM69 402h3v1h-3zM75 402h3v1h-3zM81 402h3v1h-3zM87 402h3v1h-3zM93 402h3v1h-3zM99 402h3v1h-3zM105 402h3v1h-3zM111 402h3v1h-3zM117 402h3v1h-3zM123 402h3v1h-3zM129 402h3v1h-3zM135 402h3v1h-3zM141 402h3v1h-3zM147 402h3v1h-3zM153 402h3v1h-3zM159 402h3v1h-3zM165 402h3v1h-3zM171 402h3v1h-3zM177 402h3v1h-3zM183 402h3v1h-3zM189 402h3v1h-3zM195 402h3v1h-3zM201 402h3v1h-3zM207 402h3v1h-3zM213 402h3v1h-3zM219 402h3v1h-3zM225 402h3v1h-3zM231 402h3v1h-3zM237 402h3v1h-3zM243 402h3v1h-3zM249 402h3v1h-3zM255 402h3v1h-3zM261 402h3v1h-3zM267 402h3v1h-3zM273 402h3v1h-3zM279 402h3v1h-3zM285 402h3v1h-3zM291 402h3v1h-3zM297 402h3v1h-3zM303 402h3v1h-3zM309 402h3v1h-3zM315 402h3v1h-3zM321 402h3v1h-3zM327 402h3v1h-3zM333 402h3v1h-3zM339 402h3v1h-3zM345 402h3v1h-3zM351 402h3v1h-3zM357 402h3v1h-3zM363 402h3v1h-3zM369 402h3v1h-3zM375 402h3v1h-3zM381 402h3v1h-3zM387 402h3v1h-3zM393 402h3v1h-3zM399 402h3v1h-3zM405 402h3v1h-3zM411 402h3v1h-3zM417 402h3v1h-3zM423 402h3v1h-3zM429 402h3v1h-3zM435 402h3v1h-3zM441 402h3v1h-3zM447 402h3v1h-3zM453 402h3v1h-3zM459 402h3v1h-3zM465 402h3v1h-3zM471 402h3v1h-3zM477 402h3v1h-3zM483 402h3v1h-3zM489 402h3v1h-3zM495 402h3v1h-3zM501 402h3v1h-3zM507 402h3v1h-3zM513 402h3v1h-3zM519 402h3v1h-3zM525 402h3v1h-3zM531 402h3v1h-3zM537 402h3v1h-3zM543 402h3v1h-3zM549 402h3v1h-3zM555 402h3v1h-3zM561 402h3v1h-3zM567 402h3v1h-3zM573 402h3v1h-3zM579 402h3v1h-3zM585 402h3v1h-3zM591 402h3v1h-3zM597 402h3v1h-3zM603 402h3v1h-3zM609 402h3v1h-3zM615 402h3v1h-3zM621 402h3v1h-3zM627 402h3v1h-3zM633 402h3v1h-3zM639 402h3v1h-3zM645 402h3v1h-3zM651 402h3v1h-3zM657 402h3v1h-3zM663 402h3v1h-3zM669 402h3v1h-3zM675 402h3v1h-3zM681 402h3v1h-3zM687 402h3v1h-3zM693 402h3v1h-3zM699 402h3v1h-3zM705 402h3v1h-3zM711 402h3v1h-3zM717 402h3v1h-3zM723 402h3v1h-3zM729 402h3v1h-3zM735 402h3v1h-3zM741 402h3v1h-3zM747 402h3v1h-3zM753 402h3v1h-3zM759 402h3v1h-3zM765 402h3v1h-3zM771 402h3v1h-3zM777 402h3v1h-3zM783 402h3v1h-3zM789 402h3v1h-3zM795 402h3v1h-3zM801 402h3v1h-3zM807 402h3v1h-3zM813 402h3v1h-3zM819 402h3v1h-3zM825 402h3v1h-3zM831 402h3v1h-3zM837 402h3v1h-3zM843 402h3v1h-3zM849 402h3v1h-3zM855 402h3v1h-3zM861 402h3v1h-3zM867 402h3v1h-3zM873 402h3v1h-3zM879 402h3v1h-3zM885 402h3v1h-3zM891 402h3v1h-3zM897 402h3v1h-3zM903 402h3v1h-3zM909 402h3v1h-3zM915 402h3v1h-3zM921 402h3v1h-3zM927 402h3v1h-3zM933 402h3v1h-3zM939 402h3v1h-3zM945 402h3v1h-3zM951 402h3v1h-3zM957 402h3v1h-3zM963 402h3v1h-3zM969 402h3v1h-3zM975 402h3v1h-3zM981 402h3v1h-3zM987 402h3v1h-3zM993 402h3v1h-3zM999 402h3v1h-3zM1005 402h3v1h-3zM1011 402h3v1h-3zM1017 402h3v1h-3zM1023 402h3v1h-3zM1029 402h3v1h-3zM1035 402h3v1h-3zM1041 402h3v1h-3zM1047 402h3v1h-3zM1053 402h3v1h-3zM1059 402h3v1h-3zM1065 402h3v1h-3zM1071 402h3v1h-3zM1077 402h3v1h-3zM1083 402h3v1h-3zM1089 402h3v1h-3zM1095 402h3v1h-3zM1101 402h3v1h-3zM1107 402h3v1h-3zM1113 402h3v1h-3zM1119 402h3v1h-3zM1125 402h3v1h-3zM1131 402h3v1h-3zM1137 402h3v1h-3zM1143 402h3v1h-3zM1149 402h3v1h-3zM1155 402h3v1h-3zM1161 402h3v1h-3zM1167 402h3v1h-3zM1173 402h3v1h-3zM1179 402h3v1h-3zM1185 402h3v1h-3zM1191 402h3v1h-3zM1197 402h3v1h-3zM1203 402h3v1h-3zM1209 402h3v1h-3zM1215 402h3v1h-3zM1221 402h3v1h-3zM1227 402h3v1h-3zM1233 402h3v1h-3zM1239 402h3v1h-3zM1245 402h3v1h-3zM1251 402h3v1h-3zM1257 402h3v1h-3zM1263 402h3v1h-3zM1269 402h3v1h-3zM1275 402h3v1h-3zM1281 402h3v1h-3zM1287 402h3v1h-3zM1293 402h3v1h-3zM1299 402h3v1h-3zM1305 402h3v1h-3zM1311 402h3v1h-3zM1317 402h3v1h-3zM1323 402h3v1h-3zM1329 402h3v1h-3zM1335 402h3v1h-3zM1341 402h3v1h-3zM1347 402h3v1h-3zM1353 402h3v1h-3zM1359 402h3v1h-3zM1365 402h3v1h-3zM1371 402h3v1h-3zM1377 402h3v1h-3zM1383 402h3v1h-3zM1389 402h3v1h-3zM1395 402h3v1h-3zM1401 402h3v1h-3zM1407 402h3v1h-3zM1413 402h3v1h-3zM1419 402h3v1h-3zM1425 402h3v1h-3zM1431 402h3v1h-3zM1437 402h3v1h-3zM1443 402h3v1h-3zM1449 402h3v1h-3zM1455 402h3v1h-3zM1461 402h3v1h-3zM1467 402h3v1h-3zM1473 402h3v1h-3zM1479 402h3v1h-3zM1485 402h3v1h-3zM1491 402h3v1h-3zM1497 402h3v1h-3zM1503 402h3v1h-3zM1509 402h3v1h-3zM1515 402h3v1h-3zM1521 402h3v1h-3zM1527 402h3v1h-3zM1533 402h3v1h-3zM1539 402h3v1h-3zM1545 402h3v1h-3zM1551 402h3v1h-3zM1557 402h3v1h-3zM1563 402h3v1h-3zM1569 402h3v1h-3zM1575 402h3v1h-3zM1581 402h3v1h-3zM1587 402h3v1h-3zM1593 402h3v1h-3zM1599 402h3v1h-3zM1605 402h3v1h-3zM1611 402h3v1h-3zM1617 402h3v1h-3zM1623 402h3v1h-3zM1629 402h3v1h-3zM1635 402h3v1h-3zM1641 402h3v1h-3zM1647 402h3v1h-3zM1653 402h3v1h-3zM1659 402h3v1h-3zM1665 402h3v1h-3zM1671 402h3v1h-3zM1677 402h3v1h-3zM1683 402h3v1h-3zM1689 402h3v1h-3zM1695 402h3v1h-3zM1701 402h3v1h-3zM1707 402h3v1h-3zM1713 402h3v1h-3zM1719 402h3v1h-3zM1725 402h3v1h-3zM1731 402h3v1h-3zM1737 402h3v1h-3zM1743 402h3v1h-3zM1749 402h3v1h-3zM1755 402h3v1h-3zM1761 402h3v1h-3zM1767 402h3v1h-3zM1773 402h3v1h-3zM1779 402h3v1h-3zM1785 402h3v1h-3zM1791 402h3v1h-3zM1797 402h3v1h-3zM1803 402h3v1h-3zM1809 402h3v1h-3zM1815 402h3v1h-3zM1821 402h3v1h-3zM1827 402h3v1h-3zM1833 402h3v1h-3zM1839 402h3v1h-3zM1845 402h3v1h-3zM1851 402h3v1h-3zM0 643h1v1h-1zM4 643h3v1h-3zM10 643h3v1h-3zM16 643h3v1h-3zM22 643h3v1h-3zM28 643h3v1h-3zM34 643h3v1h-3zM40 643h3v1h-3zM46 643h3v1h-3zM52 643h3v1h-3zM58 643h3v1h-3zM64 643h3v1h-3zM70 643h3v1h-3zM76 643h3v1h-3zM82 643h3v1h-3zM88 643h3v1h-3zM94 643h3v1h-3zM100 643h3v1h-3zM106 643h3v1h-3zM112 643h3v1h-3zM118 643h3v1h-3zM124 643h3v1h-3zM130 643h3v1h-3zM136 643h3v1h-3zM142 643h3v1h-3zM148 643h3v1h-3zM154 643h3v1h-3zM160 643h3v1h-3zM166 643h3v1h-3zM172 643h3v1h-3zM178 643h3v1h-3zM184 643h3v1h-3zM190 643h3v1h-3zM196 643h3v1h-3zM202 643h3v1h-3zM208 643h3v1h-3zM214 643h3v1h-3zM220 643h3v1h-3zM226 643h3v1h-3zM232 643h3v1h-3zM238 643h3v1h-3zM244 643h3v1h-3zM250 643h3v1h-3zM256 643h3v1h-3zM262 643h3v1h-3zM268 643h3v1h-3zM274 643h3v1h-3zM280 643h3v1h-3zM286 643h3v1h-3zM292 643h3v1h-3zM298 643h3v1h-3zM304 643h3v1h-3zM310 643h3v1h-3zM316 643h3v1h-3zM322 643h3v1h-3zM328 643h3v1h-3zM334 643h3v1h-3zM340 643h3v1h-3zM346 643h3v1h-3zM352 643h3v1h-3zM358 643h3v1h-3zM364 643h3v1h-3zM370 643h3v1h-3zM376 643h3v1h-3zM382 643h3v1h-3zM388 643h3v1h-3zM394 643h3v1h-3zM400 643h3v1h-3zM406 643h3v1h-3zM412 643h3v1h-3zM418 643h3v1h-3zM424 643h3v1h-3zM430 643h3v1h-3zM436 643h3v1h-3zM442 643h3v1h-3zM448 643h3v1h-3zM454 643h3v1h-3zM460 643h3v1h-3zM466 643h3v1h-3zM472 643h3v1h-3zM478 643h3v1h-3zM484 643h3v1h-3zM490 643h3v1h-3zM496 643h3v1h-3zM502 643h3v1h-3zM508 643h3v1h-3zM514 643h3v1h-3zM520 643h3v1h-3zM526 643h3v1h-3zM532 643h3v1h-3zM538 643h3v1h-3zM544 643h3v1h-3zM550 643h3v1h-3zM556 643h3v1h-3zM562 643h3v1h-3zM568 643h3v1h-3zM574 643h3v1h-3zM580 643h3v1h-3z"/>
<path fill="#ff0000" d="M6 862h1v9h-1zM12 854h1v17h-1zM26 859h1v12h-1zM30 862h1v9h-1zM50 854h1v17h-1zM55 859h1v12h-1zM64 860h1v11h-1zM69 858h1v13h-1zM79 859h1v12h-1zM103 858h1v13h-1zM117 853h1v18h-1zM127 858h1v13h-1zM132 853h1v18h-1zM136 858h1v13h-1zM141 859h1v12h-1zM156 857h1v14h-1zM161 860h1v11h-1zM170 858h1v13h-1zM175 853h1v18h-1zM179 820h1v51h-1zM189 858h1v13h-1zM199 859h1v12h-1zM232 851h1v20h-1zM242 861h1v10h-1zM252 858h1v13h-1zM256 834h1v37h-1zM271 826h1v45h-1zM281 845h1v26h-1zM285 833h1v38h-1zM294 840h1v31h-1zM314 859h1v12h-1zM334 857h1v14h-1zM338 859h1v12h-1zM352 757h1v114h-1zM357 829h1v42h-1zM362 834h1v37h-1zM372 853h1v18h-1zM376 853h1v18h-1zM386 855h1v16h-1zM400 853h1v18h-1zM410 859h1v12h-1zM415 849h1v22h-1zM420 857h1v14h-1zM425 855h1v16h-1zM429 859h1v12h-1zM434 861h1v10h-1zM449 858h1v13h-1zM467 863h1v8h-1zM492 857h1v14h-1zM511 857h1v14h-1zM516 854h1v17h-1zM520 857h1v14h-1zM530 860h1v11h-1zM535 859h1v12h-1zM540 856h1v15h-1zM559 861h1v10h-1zM569 856h1v15h-1zM573 859h1v12h-1zM583 861h1v10h-1zM598 863h1v8h-1zM640 860h1v11h-1zM645 847h1v24h-1zM669 855h1v16h-1zM679 861h1v10h-1zM689 860h1v11h-1zM713 853h1v18h-1zM718 856h1v15h-1zM722 849h1v22h-1zM727 848h1v23h-1zM737 854h1v17h-1zM742 855h1v16h-1zM751 851h1v20h-1zM756 849h1v22h-1zM760 807h1v64h-1zM771 851h1v20h-1zM789 850h1v21h-1zM794 853h1v18h-1zM809 856h1v15h-1zM818 852h1v19h-1zM823 846h1v25h-1zM852 855h1v16h-1zM857 857h1v14h-1zM862 860h1v11h-1zM866 859h1v12h-1zM876 859h1v12h-1zM881 860h1v11h-1zM929 850h1v21h-1zM938 857h1v14h-1zM944 852h1v19h-1zM953 854h1v17h-1zM957 853h1v18h-1zM962 851h1v20h-1zM972 855h1v16h-1zM982 844h1v27h-1zM1006 859h1v12h-1zM1015 861h1v10h-1zM1020 855h1v16h-1zM1025 855h1v16h-1zM1030 842h1v29h-1zM1039 853h1v18h-1zM1044 859h1v12h-1zM1054 823h1v48h-1zM1068 855h1v16h-1zM1102 859h1v12h-1zM1111 854h1v17h-1zM1116 854h1v17h-1zM1130 859h1v12h-1zM1140 855h1v16h-1zM1155 828h1v43h-1zM1164 858h1v13h-1zM1179 856h1v15h-1zM1203 856h1v15h-1zM1212 858h1v13h-1zM1217 856h1v15h-1zM1221 829h1v42h-1zM1226 821h1v50h-1zM1232 845h1v26h-1zM1236 817h1v54h-1zM1250 852h1v19h-1zM1255 847h1v24h-1zM1289 858h1v13h-1zM1299 851h1v20h-1zM1303 848h1v23h-1zM1313 855h1v16h-1zM1332 858h1v13h-1zM1341 852h1v19h-1zM1361 856h1v15h-1zM1366 852h1v19h-1zM1370 851h1v20h-1zM1376 859h1v12h-1zM1380 858h1v13h-1zM1385 856h1v15h-1zM1404 854h1v17h-1zM1409 856h1v15h-1zM1414 853h1v18h-1zM1419 852h1v19h-1zM1428 844h1v27h-1zM1443 859h1v12h-1zM1462 852h1v19h-1zM1486 868h1v3h-1zM1491 855h1v16h-1zM1500 854h1v17h-1zM1505 853h1v18h-1zM1519 847h1v24h-1zM1525 844h1v27h-1zM1529 848h1v23h-1zM1534 851h1v20h-1zM1539 854h1v17h-1zM1553 853h1v18h-1zM1558 855h1v16h-1zM1577 852h1v19h-1zM1592 856h1v15h-1zM1596 858h1v13h-1zM1601 858h1v13h-1zM1606 850h1v21h-1zM1611 850h1v21h-1zM1616 846h1v25h-1zM1625 861h1v10h-1zM1630 853h1v18h-1zM1635 850h1v21h-1zM1658 857h1v14h-1zM1673 852h1v19h-1zM1683 861h1v10h-1zM1687 846h1v25h-1zM1697 862h1v9h-1zM1702 854h1v17h-1zM1721 842h1v29h-1zM1726 856h1v15h-1zM1740 862h1v9h-1zM1755 847h1v24h-1zM1760 853h1v18h-1zM1769 845h1v26h-1zM1779 860h1v11h-1zM1784 855h1v16h-1zM1789 855h1v16h-1zM1793 851h1v20h-1zM1798 832h1v39h-1zM1807 850h1v21h-1zM1822 861h1v10h-1zM1827 854h1v17h-1zM1831 858h1v13h-1zM1836 819h1v52h-1zM1841 843h1v28h-1z"/>
<path fill="#000" d="M2 856h1v15h-1zM17 859h1v12h-1zM21 857h1v14h-1zM35 852h1v19h-1zM40 860h1v11h-1zM45 859h1v12h-1zM59 848h1v23h-1zM74 862h1v9h-1zM83 856h1v15h-1zM88 853h1v18h-1zM93 850h1v21h-1zM98 859h1v12h-1zM108 859h1v12h-1zM112 857h1v14h-1zM122 858h1v13h-1zM146 859h1v12h-1zM150 860h1v11h-1zM165 859h1v12h-1zM184 855h1v16h-1zM194 863h1v8h-1zM203 853h1v18h-1zM208 856h1v15h-1zM213 863h1v8h-1zM218 862h1v9h-1zM223 863h1v8h-1zM228 864h1v7h-1zM237 860h1v11h-1zM247 863h1v8h-1zM261 853h1v18h-1zM266 863h1v8h-1zM276 860h1v11h-1zM290 849h1v22h-1zM300 854h1v17h-1zM305 854h1v17h-1zM309 839h1v32h-1zM319 857h1v14h-1zM323 859h1v12h-1zM328 852h1v19h-1zM343 852h1v19h-1zM347 855h1v16h-1zM367 848h1v23h-1zM381 855h1v16h-1zM391 851h1v20h-1zM396 855h1v16h-1zM405 856h1v15h-1zM439 856h1v15h-1zM444 861h1v10h-1zM453 861h1v10h-1zM458 861h1v10h-1zM463 859h1v12h-1zM472 860h1v11h-1zM478 852h1v19h-1zM482 858h1v13h-1zM487 859h1v12h-1zM496 831h1v40h-1zM501 844h1v27h-1zM506 853h1v18h-1zM525 850h1v21h-1zM545 847h1v24h-1zM549 850h1v21h-1zM554 854h1v17h-1zM564 862h1v9h-1zM578 864h1v7h-1zM588 863h1v8h-1zM593 860h1v11h-1zM602 864h1v7h-1zM607 859h1v12h-1zM612 859h1v12h-1zM616 857h1v14h-1zM622 860h1v11h-1zM626 860h1v11h-1zM631 859h1v12h-1zM636 854h1v17h-1zM650 864h1v7h-1zM655 861h1v10h-1zM660 863h1v8h-1zM665 864h1v7h-1zM674 858h1v13h-1zM684 859h1v12h-1zM693 859h1v12h-1zM698 860h1v11h-1zM703 853h1v18h-1zM708 858h1v13h-1zM732 855h1v16h-1zM746 862h1v9h-1zM766 840h1v31h-1zM775 849h1v22h-1zM780 851h1v20h-1zM784 849h1v22h-1zM799 853h1v18h-1zM804 856h1v15h-1zM813 853h1v18h-1zM828 857h1v14h-1zM833 856h1v15h-1zM837 856h1v15h-1zM842 861h1v10h-1zM847 858h1v13h-1zM871 858h1v13h-1zM886 855h1v16h-1zM890 857h1v14h-1zM895 856h1v15h-1zM900 858h1v13h-1zM904 862h1v9h-1zM910 857h1v14h-1zM915 855h1v16h-1zM919 856h1v15h-1zM924 857h1v14h-1zM933 858h1v13h-1zM948 857h1v14h-1zM967 843h1v28h-1zM977 846h1v25h-1zM986 863h1v8h-1zM991 856h1v15h-1zM996 870h1v1h-1zM1001 861h1v10h-1zM1010 867h1v4h-1zM1035 845h1v26h-1zM1049 844h1v27h-1zM1059 843h1v28h-1zM1063 848h1v23h-1zM1073 848h1v23h-1zM1077 850h1v21h-1zM1082 844h1v27h-1zM1088 839h1v32h-1zM1092 856h1v15h-1zM1097 850h1v21h-1zM1106 853h1v18h-1zM1121 850h1v21h-1zM1126 854h1v17h-1zM1135 862h1v9h-1zM1145 855h1v16h-1zM1150 855h1v16h-1zM1159 849h1v22h-1zM1169 856h1v15h-1zM1174 853h1v18h-1zM1183 859h1v12h-1zM1188 860h1v11h-1zM1193 850h1v21h-1zM1198 855h1v16h-1zM1208 851h1v20h-1zM1241 827h1v44h-1zM1246 851h1v20h-1zM1260 853h1v18h-1zM1265 852h1v19h-1zM1270 856h1v15h-1zM1274 853h1v18h-1zM1279 838h1v33h-1zM1284 861h1v10h-1zM1294 856h1v15h-1zM1308 861h1v10h-1zM1318 857h1v14h-1zM1323 858h1v13h-1zM1327 851h1v20h-1zM1337 857h1v14h-1zM1347 860h1v11h-1zM1352 859h1v12h-1zM1356 849h1v22h-1zM1390 852h1v19h-1zM1394 855h1v16h-1zM1399 855h1v16h-1zM1423 853h1v18h-1zM1433 850h1v21h-1zM1438 855h1v16h-1zM1447 855h1v16h-1zM1452 861h1v10h-1zM1457 858h1v13h-1zM1467 853h1v18h-1zM1472 850h1v21h-1zM1476 858h1v13h-1zM1481 854h1v17h-1zM1496 850h1v21h-1zM1510 853h1v18h-1zM1514 858h1v13h-1zM1543 853h1v18h-1zM1548 855h1v16h-1zM1563 857h1v14h-1zM1567 855h1v16h-1zM1572 857h1v14h-1zM1582 850h1v21h-1zM1587 858h1v13h-1zM1620 853h1v18h-1zM1640 855h1v16h-1zM1645 851h1v20h-1zM1649 852h1v19h-1zM1654 858h1v13h-1zM1663 835h1v36h-1zM1669 842h1v29h-1zM1678 861h1v10h-1zM1692 861h1v10h-1zM1707 857h1v14h-1zM1711 857h1v14h-1zM1716 838h1v33h-1zM1731 861h1v10h-1zM1736 857h1v14h-1zM1745 858h1v13h-1zM1750 860h1v11h-1zM1764 859h1v12h-1zM1774 861h1v10h-1zM1803 846h1v25h-1zM1813 847h1v24h-1zM1817 861h1v10h-1z"/>
<path fill="#000" d="M0 745h1854v1h-1854zM1854 0h1v882h-1zM1855 742h2v1h-2zM1855 735h5v1h-5zM1855 728h2v1h-2zM1855 721h2v1h-2zM1855 714h2v1h-2zM1855 707h2v1h-2zM1855 700h5v1h-5zM1855 694h2v1h-2zM1855 687h2v1h-2zM1855 680h2v1h-2zM1855 673h2v1h-2zM1855 667h5v1h-5zM1855 660h2v1h-2zM1855 654h2v1h-2zM1855 647h2v1h-2zM1855 641h2v1h-2zM1855 634h5v1h-5zM1855 628h2v1h-2zM1855 621h2v1h-2zM1855 615h2v1h-2zM1855 609h2v1h-2zM1855 603h5v1h-5zM1855 596h2v1h-2zM1855 590h2v1h-2zM1855 584h2v1h-2zM1855 577h2v1h-2zM1855 572h5v1h-5zM1855 565h2v1h-2zM1855 559h2v1h-2zM1855 553h2v1h-2zM1855 547h2v1h-2zM1855 541h5v1h-5zM1855 535h2v1h-2zM1855 529h2v1h-2zM1855 523h2v1h-2zM1855 517h2v1h-2zM1855 511h5v1h-5zM1855 506h2v1h-2zM1855 500h2v1h-2zM1855 494h2v1h-2zM1855 489h2v1h-2zM1855 483h5v1h-5zM1855 477h2v1h-2zM1855 472h2v1h-2zM1855 466h2v1h-2zM1855 460h2v1h-2zM1855 455h5v1h-5zM1855 449h2v1h-2zM1855 444h2v1h-2zM1855 438h2v1h-2zM1855 433h2v1h-2zM1855 427h5v1h-5zM1855 422h2v1h-2zM1855 417h2v1h-2zM1855 411h2v1h-2zM1855 406h2v1h-2zM1855 401h5v1h-5zM1855 395h2v1h-2zM1855 390h2v1h-2zM1855 385h2v1h-2zM1855 380h2v1h-2zM1855 374h5v1h-5zM1855 369h2v1h-2zM1855 364h2v1h-2zM1855 359h2v1h-2zM1855 354h2v1h-2zM1855 349h5v1h-5zM1855 344h2v1h-2zM1855 339h2v1h-2zM1855 334h2v1h-2zM1855 329h2v1h-2zM1855 324h5v1h-5zM1855 319h2v1h-2zM1855 314h2v1h-2zM1855 309h2v1h-2zM1855 304h2v1h-2zM1855 299h5v1h-5zM1855 294h2v1h-2zM1855 289h2v1h-2zM1855 285h2v1h-2zM1855 280h2v1h-2zM1855 275h5v1h-5zM1855 270h2v1h-2zM1855 265h2v1h-2zM1855 261h2v1h-2zM1855 256h2v1h-2zM1855 251h5v1h-5zM1855 247h2v1h-2zM1855 242h2v1h-2zM1855 237h2v1h-2zM1855 233h2v1h-2zM1855 228h5v1h-5zM1855 224h2v1h-2zM1855 219h2v1h-2zM1855 214h2v1h-2zM1855 210h2v1h-2zM1855 205h5v1h-5zM1855 201h2v1h-2zM1855 196h2v1h-2zM1855 192h2v1h-2zM1855 188h2v1h-2zM1855 183h5v1h-5zM1855 179h2v1h-2zM1855 174h2v1h-2zM1855 170h2v1h-2zM1855 166h2v1h-2zM1855 161h5v1h-5zM1855 157h2v1h-2zM1855 153h2v1h-2zM1855 148h2v1h-2zM1855 144h2v1h-2zM1855 140h5v1h-5zM1855 135h2v1h-2zM1855 131h2v1h-2zM1855 127h2v1h-2zM1855 123h2v1h-2zM1855 119h5v1h-5zM1855 114h2v1h-2zM1855 110h2v1h-2zM1855 106h2v1h-2zM1855 102h2v1h-2zM1855 98h5v1h-5zM1855 94h2v1h-2zM1855 90h2v1h-2zM1855 86h2v1h-2zM1855 82h2v1h-2zM1855 77h5v1h-5zM1855 73h2v1h-2zM1855 69h2v1h-2zM1855 65h2v1h-2zM1855 61h2v1h-2zM1855 57h5v1h-5zM1855 53h2v1h-2zM1855 50h2v1h-2zM1855 46h2v1h-2zM1855 42h2v1h-2zM1855 38h5v1h-5zM1855 34h2v1h-2zM1855 30h2v1h-2zM1855 26h2v1h-2zM1855 22h2v1h-2zM1855 18h5v1h-5zM1855 14h2v1h-2zM1855 11h2v1h-2zM1855 7h2v1h-2zM1855 870h6v1h-6zM1855 865h2v1h-2zM1855 860h5v1h-5zM1855 854h2v1h-2zM1855 849h5v1h-5zM1855 844h2v1h-2zM1855 839h5v1h-5zM1855 833h2v1h-2zM1855 828h5v1h-5zM1855 823h2v1h-2zM1855 818h5v1h-5zM1855 813h2v1h-2zM1855 807h5v1h-5zM1855 802h2v1h-2zM1855 797h5v1h-5zM1855 792h2v1h-2zM1855 786h5v1h-5zM1855 781h2v1h-2zM1855 776h5v1h-5zM1855 771h2v1h-2zM1855 766h5v1h-5zM1855 760h2v1h-2zM1855 755h5v1h-5zM1855 750h2v1h-2zM1856 873h21v1h-21zM1876 873h1v9h-1zM1856 873h1v9h-1zM1854 881h3v1h-3zM0 882h1854v1h-1854zM0 893h1854v1h-1854zM17 882h1v12h-1zM40 882h1v12h-1zM64 882h1v12h-1zM88 882h1v12h-1zM112 882h1v12h-1zM136 882h1v12h-1zM156 882h1v12h-1zM175 882h1v12h-1zM194 882h1v12h-1zM218 882h1v12h-1zM242 882h1v12h-1zM266 882h1v12h-1zM314 882h1v12h-1zM338 882h1v12h-1zM362 882h1v12h-1zM386 882h1v12h-1zM410 882h1v12h-1zM434 882h1v12h-1zM458 882h1v12h-1zM482 882h1v12h-1zM506 882h1v12h-1zM530 882h1v12h-1zM554 882h1v12h-1zM578 882h1v12h-1zM626 882h1v12h-1zM650 882h1v12h-1zM674 882h1v12h-1zM698 882h1v12h-1zM722 882h1v12h-1zM746 882h1v12h-1zM771 882h1v12h-1zM794 882h1v12h-1zM842 882h1v12h-1zM866 882h1v12h-1zM890 882h1v12h-1zM938 882h1v12h-1zM962 882h1v12h-1zM986 882h1v12h-1zM1001 882h1v12h-1zM1020 882h1v12h-1zM1044 882h1v12h-1zM1068 882h1v12h-1zM1092 882h1v12h-1zM1140 882h1v12h-1zM1164 882h1v12h-1zM1188 882h1v12h-1zM1236 882h1v12h-1zM1260 882h1v12h-1zM1284 882h1v12h-1zM1308 882h1v12h-1zM1327 882h1v12h-1zM1347 882h1v12h-1zM1370 882h1v12h-1zM1394 882h1v12h-1zM1438 882h1v12h-1zM1462 882h1v12h-1zM1486 882h1v12h-1zM1534 882h1v12h-1zM1558 882h1v12h-1zM1582 882h1v12h-1zM1606 882h1v12h-1zM1630 882h1v12h-1zM1654 882h1v12h-1zM1678 882h1v12h-1zM1702 882h1v12h-1zM1750 882h1v12h-1zM1774 882h1v12h-1zM1798 882h1v12h-1zM1822 882h1v12h-1zM1846 882h1v12h-1zM93 882h1v22h-1zM189 882h1v22h-1zM290 882h1v22h-1zM391 882h1v22h-1zM501 882h1v22h-1zM602 882h1v22h-1zM708 882h1v22h-1zM818 882h1v22h-1zM915 882h1v22h-1zM1015 882h1v22h-1zM1116 882h1v22h-1zM1212 882h1v22h-1zM1318 882h1v22h-1zM1414 882h1v22h-1zM1510 882h1v22h-1zM1616 882h1v22h-1zM1726 882h1v22h-1zM1827 882h1v22h-1z"/>
</g>
<defs><clipPath id="c"><rect x="0" y="0" width="1854" height="904"/></clipPath></defs>
<g>
<text transform="translate(1888.5 740) scale(0.9 1)" font-size="10" text-anchor="end">17.0</text>
<text transform="translate(1888.5 705) scale(0.9 1)" font-size="10" text-anchor="end">17.5</text>
<text transform="translate(1888.5 672) scale(0.9 1)" font-size="10" text-anchor="end">18.0</text>
<text transform="translate(1888.5 639) scale(0.9 1)" font-size="10" text-anchor="end">18.5</text>
<text transform="translate(1888.5 608) scale(0.9 1)" font-size="10" text-anchor="end">19.0</text>
<text transform="translate(1888.5 577) scale(0.9 1)" font-size="10" text-anchor="end">19.5</text>
<text transform="translate(1888.5 546) scale(0.9 1)" font-size="10" text-anchor="end">20.0</text>
<text transform="translate(1888.5 516) scale(0.9 1)" font-size="10" text-anchor="end">20.5</text>
<text transform="translate(1888.5 488) scale(0.9 1)" font-size="10" text-anchor="end">21.0</text>
<text transform="translate(1888.5 460) scale(0.9 1)" font-size="10" text-anchor="end">21.5</text>
<text transform="translate(1888.5 432) scale(0.9 1)" font-size="10" text-anchor="end">22.0</text>
<text transform="translate(1888.5 406) scale(0.9 1)" font-size="10" text-anchor="end">22.5</text>
<text transform="translate(1888.5 379) scale(0.9 1)" font-size="10" text-anchor="end">23.0</text>
<text transform="translate(1888.5 354) scale(0.9 1)" font-size="10" text-anchor="end">23.5</text>
<text transform="translate(1888.5 329) scale(0.9 1)" font-size="10" text-anchor="end">24.0</text>
<text transform="translate(1888.5 304) scale(0.9 1)" font-size="10" text-anchor="end">24.5</text>
<text transform="translate(1888.5 280) scale(0.9 1)" font-size="10" text-anchor="end">25.0</text>
<text transform="translate(1888.5 256) scale(0.9 1)" font-size="10" text-anchor="end">25.5</text>
<text transform="translate(1888.5 233) scale(0.9 1)" font-size="10" text-anchor="end">26.0</text>
<text transform="translate(1888.5 210) scale(0.9 1)" font-size="10" text-anchor="end">26.5</text>
<text transform="translate(1888.5 188) scale(0.9 1)" font-size="10" text-anchor="end">27.0</text>
<text transform="translate(1888.5 166) scale(0.9 1)" font-size="10" text-anchor="end">27.5</text>
<text transform="translate(1888.5 145) scale(0.9 1)" font-size="10" text-anchor="end">28.0</text>
<text transform="translate(1888.5 124) scale(0.9 1)" font-size="10" text-anchor="end">28.5</text>
<text transform="translate(1888.5 103) scale(0.9 1)" font-size="10" text-anchor="end">29.0</text>
<text transform="translate(1888.5 82) scale(0.9 1)" font-size="10" text-anchor="end">29.5</text>
<text transform="translate(1888.5 62) scale(0.9 1)" font-size="10" text-anchor="end">30.0</text>
<text transform="translate(1888.5 43) scale(0.9 1)" font-size="10" text-anchor="end">30.5</text>
<text transform="translate(1888.5 23) scale(0.9 1)" font-size="10" text-anchor="end">31.0</text>
<text transform="translate(1888.5 875) scale(0.9 1)" font-size="10" text-anchor="end">0</text>
<text transform="translate(1888.5 865) scale(0.9 1)" font-size="10" text-anchor="end">1000</text>
<text transform="translate(1888.5 854) scale(0.9 1)" font-size="10" text-anchor="end">2000</text>
<text transform="translate(1888.5 844) scale(0.9 1)" font-size="10" text-anchor="end">3000</text>
<text transform="translate(1888.5 833) scale(0.9 1)" font-size="10" text-anchor="end">4000</text>
<text transform="translate(1888.5 823) scale(0.9 1)" font-size="10" text-anchor="end">5000</text>
<text transform="translate(1888.5 812) scale(0.9 1)" font-size="10" text-anchor="end">6000</text>
<text transform="translate(1888.5 802) scale(0.9 1)" font-size="10" text-anchor="end">7000</text>
<text transform="translate(1888.5 791) scale(0.9 1)" font-size="10" text-anchor="end">8000</text>
<text transform="translate(1888.5 781) scale(0.9 1)" font-size="10" text-anchor="end">9000</text>
<text transform="translate(1888.5 771) scale(0.9 1)" font-size="10" text-anchor="end">10000</text>
<text transform="translate(1888.5 760) scale(0.9 1)" font-size="10" text-anchor="end">11000</text>
<text transform="translate(1857.3 879.6) scale(0.9 1)" font-size="6.5">x1000</text>
</g>
<g clip-path="url(#c)">
<text transform="translate(18.6 891) scale(0.9 1)" font-size="10">10</text>
<text transform="translate(41.6 891) scale(0.9 1)" font-size="10">17</text>
<text transform="translate(65.6 891) scale(0.9 1)" font-size="10">24</text>
<text transform="translate(89.6 891) scale(0.9 1)" font-size="10">31</text>
<text transform="translate(113.6 891) scale(0.9 1)" font-size="10">7</text>
<text transform="translate(137.6 891) scale(0.9 1)" font-size="10">14</text>
<text transform="translate(157.6 891) scale(0.9 1)" font-size="10">22</text>
<text transform="translate(176.6 891) scale(0.9 1)" font-size="10">28</text>
<text transform="translate(195.6 891) scale(0.9 1)" font-size="10">5</text>
<text transform="translate(219.6 891) scale(0.9 1)" font-size="10">12</text>
<text transform="translate(243.6 891) scale(0.9 1)" font-size="10">19</text>
<text transform="translate(267.6 891) scale(0.9 1)" font-size="10">26</text>
<text transform="translate(291.6 891) scale(0.9 1)" font-size="10">2</text>
<text transform="translate(315.6 891) scale(0.9 1)" font-size="10">9</text>
<text transform="translate(339.6 891) scale(0.9 1)" font-size="10">16</text>
<text transform="translate(363.6 891) scale(0.9 1)" font-size="10">23</text>
<text transform="translate(387.6 891) scale(0.9 1)" font-size="10">30</text>
<text transform="translate(411.6 891) scale(0.9 1)" font-size="10">7</text>
<text transform="translate(435.6 891) scale(0.9 1)" font-size="10">14</text>
<text transform="translate(459.6 891) scale(0.9 1)" font-size="10">21</text>
<text transform="translate(483.6 891) scale(0.9 1)" font-size="10">28</text>
<text transform="translate(507.6 891) scale(0.9 1)" font-size="10">4</text>
<text transform="translate(531.6 891) scale(0.9 1)" font-size="10">11</text>
<text transform="translate(555.6 891) scale(0.9 1)" font-size="10">18</text>
<text transform="translate(579.6 891) scale(0.9 1)" font-size="10">25</text>
<text transform="translate(603.6 891) scale(0.9 1)" font-size="10">1</text>
<text transform="translate(627.6 891) scale(0.9 1)" font-size="10">8</text>
<text transform="translate(651.6 891) scale(0.9 1)" font-size="10">15</text>
<text transform="translate(675.6 891) scale(0.9 1)" font-size="10">22</text>
<text transform="translate(699.6 891) scale(0.9 1)" font-size="10">29</text>
<text transform="translate(723.6 891) scale(0.9 1)" font-size="10">6</text>
<text transform="translate(747.6 891) scale(0.9 1)" font-size="10">13</text>
<text transform="translate(772.6 891) scale(0.9 1)" font-size="10">20</text>
<text transform="translate(795.6 891) scale(0.9 1)" font-size="10">27</text>
<text transform="translate(819.6 891) scale(0.9 1)" font-size="10">3</text>
<text transform="translate(843.6 891) scale(0.9 1)" font-size="10">10</text>
<text transform="translate(867.6 891) scale(0.9 1)" font-size="10">17</text>
<text transform="translate(891.6 891) scale(0.9 1)" font-size="10">24</text>
<text transform="translate(916.6 891) scale(0.9 1)" font-size="10">1</text>
<text transform="translate(939.6 891) scale(0.9 1)" font-size="10">8</text>
<text transform="translate(963.6 891) scale(0.9 1)" font-size="10">15</text>
<text transform="translate(987.6 891) scale(0.9 1)" font-size="10">22</text>
<text transform="translate(1021.6 891) scale(0.9 1)" font-size="10">5</text>
<text transform="translate(1045.6 891) scale(0.9 1)" font-size="10">12</text>
<text transform="translate(1069.6 891) scale(0.9 1)" font-size="10">19</text>
<text transform="translate(1093.6 891) scale(0.9 1)" font-size="10">26</text>
<text transform="translate(1117.6 891) scale(0.9 1)" font-size="10">2</text>
<text transform="translate(1141.6 891) scale(0.9 1)" font-size="10">9</text>
<text transform="translate(1165.6 891) scale(0.9 1)" font-size="10">16</text>
<text transform="translate(1189.6 891) scale(0.9 1)" font-size="10">23</text>
<text transform="translate(1213.6 891) scale(0.9 1)" font-size="10">2</text>
<text transform="translate(1237.6 891) scale(0.9 1)" font-size="10">9</text>
<text transform="translate(1261.6 891) scale(0.9 1)" font-size="10">16</text>
<text transform="translate(1285.6 891) scale(0.9 1)" font-size="10">23</text>
<text transform="translate(1309.6 891) scale(0.9 1)" font-size="10">30</text>
<text transform="translate(1328.6 891) scale(0.9 1)" font-size="10">7</text>
<text transform="translate(1348.6 891) scale(0.9 1)" font-size="10">13</text>
<text transform="translate(1371.6 891) scale(0.9 1)" font-size="10">20</text>
<text transform="translate(1395.6 891) scale(0.9 1)" font-size="10">27</text>
<text transform="translate(1415.6 891) scale(0.9 1)" font-size="10">4</text>
<text transform="translate(1439.6 891) scale(0.9 1)" font-size="10">11</text>
<text transform="translate(1463.6 891) scale(0.9 1)" font-size="10">18</text>
<text transform="translate(1487.6 891) scale(0.9 1)" font-size="10">25</text>
<text transform="translate(1511.6 891) scale(0.9 1)" font-size="10">1</text>
<text transform="translate(1535.6 891) scale(0.9 1)" font-size="10">8</text>
<text transform="translate(1559.6 891) scale(0.9 1)" font-size="10">15</text>
<text transform="translate(1583.6 891) scale(0.9 1)" font-size="10">22</text>
<text transform="translate(1607.6 891) scale(0.9 1)" font-size="10">29</text>
<text transform="translate(1631.6 891) scale(0.9 1)" font-size="10">6</text>
<text transform="translate(1655.6 891) scale(0.9 1)" font-size="10">13</text>
<text transform="translate(1679.6 891) scale(0.9 1)" font-size="10">20</text>
<text transform="translate(1703.6 891) scale(0.9 1)" font-size="10">27</text>
<text transform="translate(1727.6 891) scale(0.9 1)" font-size="10">3</text>
<text transform="translate(1751.6 891) scale(0.9 1)" font-size="10">10</text>
<text transform="translate(1775.6 891) scale(0.9 1)" font-size="10">17</text>
<text transform="translate(1799.6 891) scale(0.9 1)" font-size="10">24</text>
<text transform="translate(1823.6 891) scale(0.9 1)" font-size="10">3</text>
<text transform="translate(1828.6 891) scale(0.9 1)" font-size="10">1</text>
<text transform="translate(1847.6 891) scale(0.9 1)" font-size="10">7</text>
<text transform="translate(95 903) scale(0.9 1)" font-size="10">April</text>
<text transform="translate(191 903) scale(0.9 1)" font-size="10">May</text>
<text transform="translate(292 903) scale(0.9 1)" font-size="10">June</text>
<text transform="translate(393 903) scale(0.9 1)" font-size="10">July</text>
<text transform="translate(503 903) scale(0.9 1)" font-size="10">August</text>
<text transform="translate(604 903) scale(0.9 1)" font-size="10">September</text>
<text transform="translate(710 903) scale(0.9 1)" font-size="10">October</text>
<text transform="translate(820 903) scale(0.9 1)" font-size="10">November</text>
<text transform="translate(917 903) scale(0.9 1)" font-size="10">December</text>
<text transform="translate(1017 903) scale(0.9 1)" font-size="10">2015</text>
<text transform="translate(1118 903) scale(0.9 1)" font-size="10">February</text>
<text transform="translate(1214 903) scale(0.9 1)" font-size="10">March</text>
<text transform="translate(1320 903) scale(0.9 1)" font-size="10">April</text>
<text transform="translate(1416 903) scale(0.9 1)" font-size="10">May</text>
<text transform="translate(1512 903) scale(0.9 1)" font-size="10">June</text>
<text transform="translate(1618 903) scale(0.9 1)" font-size="10">July</text>
<text transform="translate(1728 903) scale(0.9 1)" font-size="10">August</text>
<text transform="translate(1829 903) scale(0.9 1)" font-size="10">September</text>
<text transform="translate(-7.8 903) scale(0.9 1)" font-size="10">March</text>
</g>
</svg>
</body></html>
